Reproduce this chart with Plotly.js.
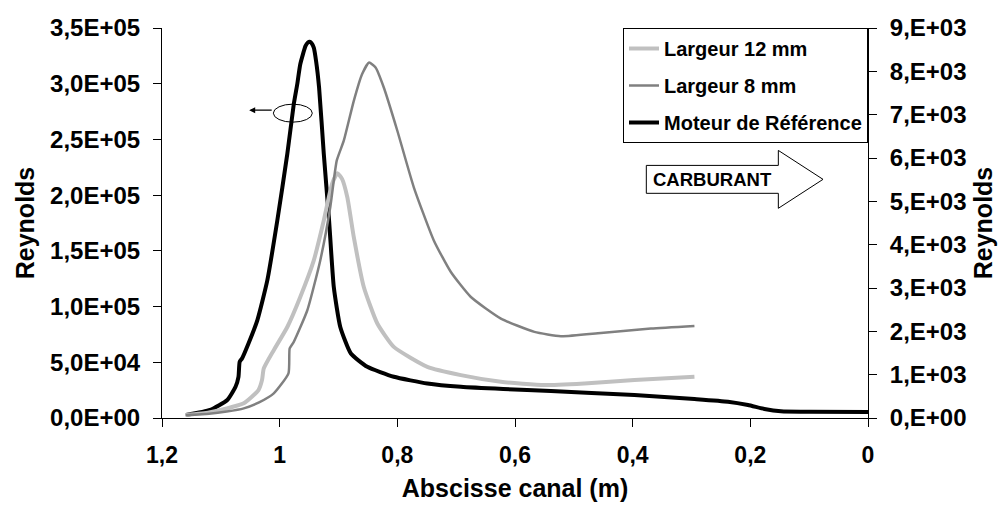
<!DOCTYPE html>
<html>
<head>
<meta charset="utf-8">
<script src="https://cdn.plot.ly/plotly-3.0.1.min.js"></script>
<style>html,body{margin:0;padding:0;background:#fff;}#chart{width:1004px;height:507px;}</style>
</head>
<body>
<div id="chart"></div>
<script>
// ---- Data ----
const seriesNames = ["Largeur 12 mm", "Largeur 8 mm", "Moteur de Référence"];

// Moteur de Référence (left axis)
const xRef = [1.159,1.118,1.089,1.075,1.070,1.068,1.064,1.053,1.038,1.021,1.004,0.987,0.976,0.970,0.965,0.956,0.952,0.949,0.946,0.942,0.938,0.933,0.925,0.916,0.908,0.897,0.879,0.851,0.806,0.749,0.692,0.620,0.539,0.470,0.397,0.295,0.238,0.204,0.176,0.148,0.100,0.000];
const yRef = [2700,7200,16100,28000,37000,50400,53400,66900,87700,123500,177200,237000,281700,300000,317500,333900,337000,337700,336500,332400,320000,296600,237000,177200,117500,81700,57900,45900,37000,31000,28000,26000,24200,22500,20600,17000,14600,11600,8100,6000,5600,5400];

// Largeur 12 mm (right axis)
const x12 = [1.160,1.120,1.090,1.061,1.036,1.030,1.027,1.010,0.987,0.965,0.942,0.925,0.911,0.902,0.894,0.885,0.874,0.857,0.834,0.806,0.749,0.692,0.624,0.550,0.482,0.397,0.295];
const y12 = [70,130,220,338,644,875,1143,1565,2100,2792,3637,4558,5402,5646,5518,5094,4173,3022,2180,1641,1181,990,836,760,799,875,951];

// Largeur 8 mm (right axis)
const x8 = [1.160,1.120,1.090,1.061,1.035,1.010,0.985,0.983,0.976,0.953,0.931,0.914,0.903,0.891,0.874,0.860,0.848,0.837,0.823,0.800,0.772,0.738,0.709,0.675,0.624,0.567,0.522,0.454,0.369,0.295];
const y8 = [69,100,150,223,360,568,1029,1604,1757,2486,3637,4864,5939,6399,7320,7934,8202,8087,7626,6629,5324,4097,3368,2792,2295,1987,1888,1964,2065,2125];

// Tick labels
const xTickVals = [1.2,1.0,0.8,0.6,0.4,0.2,0];
const xTickText = ["1,2","1","0,8","0,6","0,4","0,2","0"];
const yLeftVals = [0,50000,100000,150000,200000,250000,300000,350000];
const yLeftText = ["0,0E+00","5,0E+04","1,0E+05","1,5E+05","2,0E+05","2,5E+05","3,0E+05","3,5E+05"];
const yRightVals = [0,1000,2000,3000,4000,5000,6000,7000,8000,9000];
const yRightText = ["0,E+00","1,E+03","2,E+03","3,E+03","4,E+03","5,E+03","6,E+03","7,E+03","8,E+03","9,E+03"];

const axisTitle = "Reynolds";
const xTitle = "Abscisse canal (m)";
const fuelLabel = "CARBURANT";

// ---- Chart ----
const FONT = "Liberation Sans, Arial, Helvetica, sans-serif";
const boldFont = (s) => ({family: FONT, size: s, color: "#000", weight: "bold"});

const traces = [
  {x: x12, y: y12, yaxis: "y2", name: seriesNames[0], legendgroup: "a", mode: "lines",
   line: {color: "#c0c0c0", width: 4, shape: "spline", smoothing: 0.5}},
  {x: x8, y: y8, yaxis: "y2", name: seriesNames[1], legendgroup: "b", mode: "lines",
   line: {color: "#808080", width: 2.5, shape: "spline", smoothing: 0.5}},
  {x: xRef, y: yRef, yaxis: "y", name: seriesNames[2], legendgroup: "c", mode: "lines",
   line: {color: "#000000", width: 4, shape: "spline", smoothing: 0.5}}
];

const layout = {
  width: 1004, height: 507,
  margin: {l: 162, r: 136, t: 28, b: 89, pad: 0},
  paper_bgcolor: "#fff", plot_bgcolor: "#fff",
  showlegend: true,
  legend: {x: 1, xanchor: "right", y: 1, yanchor: "top", bgcolor: "#fff",
    bordercolor: "#000", borderwidth: 1, font: boldFont(20), tracegroupgap: 8,
    itemwidth: 30},
  xaxis: {range: [1.2, 0], tickmode: "array", tickvals: xTickVals, ticktext: xTickText,
    showgrid: false, zeroline: false, showline: true, linecolor: "#000", linewidth: 1,
    ticks: "outside", ticklen: 8, tickcolor: "#000", tickfont: boldFont(23),
    ticklabelstandoff: 8,
    title: {text: xTitle, font: boldFont(25), standoff: 12}},
  yaxis: {range: [0, 350000], tickmode: "array", tickvals: yLeftVals, ticktext: yLeftText,
    showgrid: false, zeroline: false, showline: true, linecolor: "#000", linewidth: 1,
    ticks: "outside", ticklen: 8, tickcolor: "#000", tickfont: boldFont(24),
    ticklabelstandoff: 8,
    title: {text: axisTitle, font: boldFont(25), standoff: 8}},
  yaxis2: {range: [0, 9000], overlaying: "y", side: "right", tickmode: "array",
    tickvals: yRightVals, ticktext: yRightText,
    showgrid: false, zeroline: false, showline: true, linecolor: "#000", linewidth: 1,
    ticks: "outside", ticklen: 8, tickcolor: "#000", tickfont: boldFont(24),
    ticklabelstandoff: 8,
    title: {text: axisTitle, font: boldFont(25), standoff: 8}},
  shapes: [
    // CARBURANT block arrow
    {type: "path", xref: "paper", yref: "paper",
     path: "M 0.686 0.6477 L 0.873 0.6477 L 0.873 0.6861 L 0.9363 0.6119 L 0.873 0.5377 L 0.873 0.5761 L 0.686 0.5761 Z",
     line: {color: "#000", width: 1}, fillcolor: "#fff"},
    // ellipse marking the reference curve
    {type: "circle", xref: "paper", yref: "paper", x0: 0.1577, x1: 0.2129, y0: 0.7586, y1: 0.8047,
     line: {color: "#000", width: 1}}
  ],
  annotations: [
    {xref: "paper", yref: "paper", x: 0.6925, y: 0.6119, xanchor: "left", yanchor: "middle",
     text: fuelLabel, showarrow: false, font: boldFont(18.5)},
    {xref: "paper", yref: "paper", x: 0.1235, y: 0.7893, ax: 24, ay: 0, text: "",
     showarrow: true, arrowhead: 2, arrowsize: 1, arrowwidth: 1.2, arrowcolor: "#000"}
  ]
};

Plotly.newPlot("chart", traces, layout, {displayModeBar: false, staticPlot: true});
</script>
</body>
</html>
